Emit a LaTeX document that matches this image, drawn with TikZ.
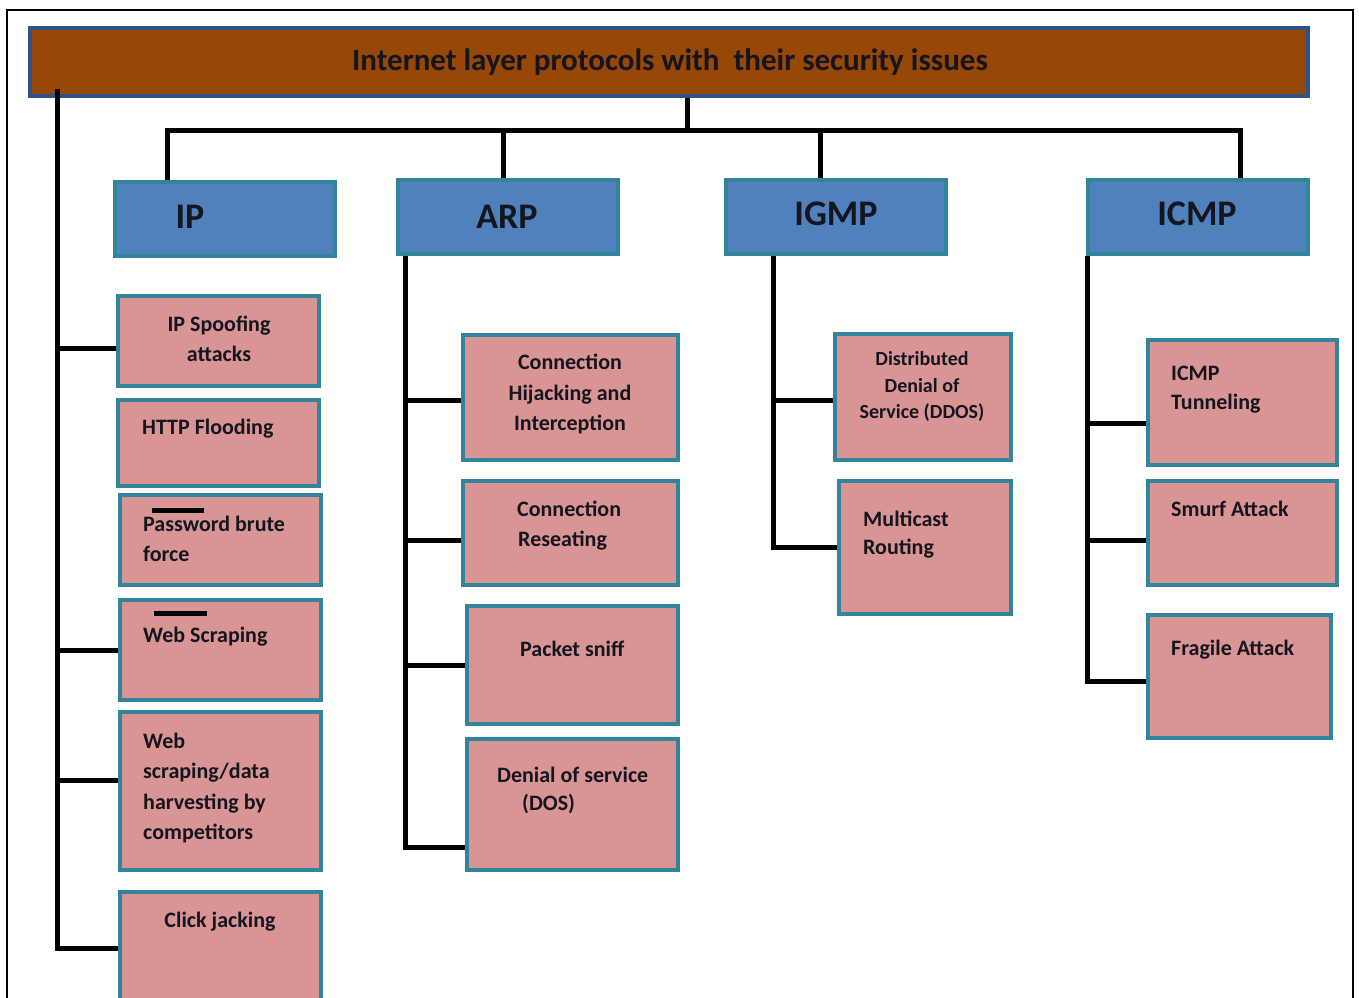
\documentclass[tikz,border=0pt]{standalone}
\usepackage{fontspec}
\setmainfont{Carlito}
\definecolor{titlefill}{HTML}{974706}
\definecolor{titleedge}{HTML}{2E5387}
\definecolor{protofill}{HTML}{4F81BD}
\definecolor{boxedge}{HTML}{31849B}
\definecolor{attackfill}{HTML}{D99594}
\definecolor{ink}{HTML}{15151F}
\pgfdeclarelayer{background}
\pgfsetlayers{background,main}
% box node from its outer corners (x1,y1)-(x2,y2), border 4pt
\newcommand\mkbox[6]{\node[#1, minimum width={#5-#3-4}, minimum height={#6-#4-4}] (#2) at ({(#3+#5)/2},{(#4+#6)/2}) {};}
\begin{document}
\begin{tikzpicture}[x=1pt,y=-1pt,
  conn/.style={line width=5pt, black, line join=miter},
  titlebox/.style={draw=titleedge, fill=titlefill, line width=4pt, inner sep=0pt},
  protobox/.style={draw=boxedge, fill=protofill, line width=4pt, inner sep=0pt},
  attackbox/.style={draw=boxedge, fill=attackfill, line width=4pt, inner sep=0pt},
  lbl/.style={font=\bfseries\fontsize{22}{22}\selectfont, text=ink, inner sep=0pt},
  small/.style={font=\bfseries\fontsize{20}{20}\selectfont, text=ink, inner sep=0pt},
  proto/.style={font=\bfseries\fontsize{36}{36}\selectfont, text=ink, inner sep=0pt},
  heading/.style={font=\bfseries\fontsize{31}{31}\selectfont, text=ink, inner sep=0pt}]
\useasboundingbox (0,0) rectangle (1359,997);
\begin{scope}
\clip (0,0) rectangle (1359,997);
\draw[line width=1.5pt, black] (7,10) rectangle (1353,1030);
\end{scope}

% title bar
\mkbox{titlebox}{title}{28}{26}{1310}{98}
\node[heading, anchor=base] (titletext) at (670,70) {Internet layer protocols with\ \ their security issues};

% protocol boxes
\mkbox{protobox}{ip}{113}{180}{337}{258}
\mkbox{protobox}{arp}{396}{178}{620}{256}
\mkbox{protobox}{igmp}{724}{178}{948}{256}
\mkbox{protobox}{icmp}{1086}{178}{1310}{256}
\node[proto] (iptext) at (190,217) {IP};
\node[proto] (arptext) at (507,217) {ARP};
\node[proto] (igmptext) at (836,214) {IGMP};
\node[proto] (icmptext) at (1197,214) {ICMP};

% IP issues
\mkbox{attackbox}{b1}{116}{294}{321}{388}
\mkbox{attackbox}{b2}{116}{398}{321}{488}
\mkbox{attackbox}{b3}{118}{493}{323}{587}
\mkbox{attackbox}{b4}{118}{598}{323}{702}
\mkbox{attackbox}{b5}{118}{710}{323}{872}
\mkbox{attackbox}{b6}{118}{890}{323}{1003}
\node[lbl, anchor=mid] (b1a) at (219,329) {IP Spoofing};
\node[lbl, anchor=mid] (b1b) at (219,359) {attacks};
\node[lbl, anchor=mid west] (b2a) at (142,432) {HTTP Flooding};
\node[lbl, anchor=mid west] (b3a) at (143,529) {Password brute};
\node[lbl, anchor=mid west] (b3b) at (143,559) {force};
\node[lbl, anchor=mid west] (b4a) at (143,640) {Web Scraping};
\node[lbl, anchor=mid west] (b5a) at (143,746) {Web};
\node[lbl, anchor=mid west] (b5b) at (143,776) {scraping/data};
\node[lbl, anchor=mid west] (b5c) at (143,807) {harvesting by};
\node[lbl, anchor=mid west] (b5d) at (143,837) {competitors};
\node[lbl, anchor=mid] (b6a) at (220,925) {Click jacking};
% short bars over the text
\draw[line width=5pt, black] (152,510) -- (204,510);
\draw[line width=5pt, black] (154,613) -- (207,613);

% ARP issues
\mkbox{attackbox}{c1}{461}{333}{680}{462}
\mkbox{attackbox}{c2}{461}{479}{680}{587}
\mkbox{attackbox}{c3}{465}{604}{680}{726}
\mkbox{attackbox}{c4}{465}{737}{680}{872}
\node[lbl, anchor=mid] (c1a) at (570,367) {Connection};
\node[lbl, anchor=mid] (c1b) at (570,398) {Hijacking and};
\node[lbl, anchor=mid] (c1c) at (570,428) {Interception};
\node[lbl, anchor=mid west] (c2a) at (517,514) {Connection};
\node[lbl, anchor=mid west] (c2b) at (518,544) {Reseating};
\node[lbl, anchor=mid west] (c3a) at (520,654) {Packet sniff};
\node[lbl, anchor=mid west] (c4a) at (497,780) {Denial of service};
\node[lbl, anchor=mid west] (c4b) at (522,808) {(DOS)};

% IGMP issues
\mkbox{attackbox}{d1}{833}{332}{1013}{462}
\mkbox{attackbox}{d2}{837}{479}{1013}{616}
\node[small, anchor=mid] (d1a) at (922,363) {Distributed};
\node[small, anchor=mid] (d1b) at (922,390) {Denial of};
\node[small, anchor=mid] (d1c) at (922,416) {Service (DDOS)};
\node[lbl, anchor=mid west] (d2a) at (863,524) {Multicast};
\node[lbl, anchor=mid west] (d2b) at (863,552) {Routing};

% ICMP issues
\mkbox{attackbox}{e1}{1146}{338}{1339}{467}
\mkbox{attackbox}{e2}{1146}{479}{1339}{587}
\mkbox{attackbox}{e3}{1146}{613}{1333}{740}
\node[lbl, anchor=mid west] (e1a) at (1171,378) {ICMP};
\node[lbl, anchor=mid west] (e1b) at (1171,407) {Tunneling};
\node[lbl, anchor=mid west] (e2a) at (1171,514) {Smurf Attack};
\node[lbl, anchor=mid west] (e3a) at (1171,653) {Fragile Attack};

% bus positions
\coordinate (hub) at (687,130);
\coordinate (ipx) at (167,0);
\coordinate (arpx) at (503,0);
\coordinate (igmpx) at (820,0);
\coordinate (icmpx) at (1240,0);
\coordinate (lx) at (57,0);
\coordinate (ltop) at (57,89);
\coordinate (arpbus) at (405,0);
\coordinate (igmpbus) at (773,0);
\coordinate (icmpbus) at (1087,0);

% left bus, starting over the lower edge of the title bar
\draw[conn] (ltop) |- ([yshift=-1.5]b6.west);

\begin{pgfonlayer}{background}
  % title to protocols
  \draw[conn] (title.south -| hub) -- (hub);
  \draw[conn] (ip.north -| ipx) -- (ipx |- hub) -- (icmpx |- hub) -- (icmp.north -| icmpx);
  \draw[conn] (arp.north -| arpx) -- (arpx |- hub);
  \draw[conn] (igmp.north -| igmpx) -- (igmpx |- hub);
  % branches of the left bus
  \draw[conn] ([yshift=-7]b1.west) -- ([yshift=-7]b1.west -| lx);
  \draw[conn] (b4.west) -- (b4.west -| lx);
  \draw[conn] ([yshift=11]b5.west) -- ([yshift=11]b5.west -| lx);
  % ARP bus
  \draw[conn] (arp.south -| arpbus) |- ([yshift=-42.5]c4.west);
  \draw[conn] ([yshift=-2.5]c1.west) -- ([yshift=-2.5]c1.west -| arpbus);
  \draw[conn] ([yshift=-7]c2.west) -- ([yshift=-7]c2.west -| arpbus);
  \draw[conn] (c3.west) -- (c3.west -| arpbus);
  % IGMP bus
  \draw[conn] (igmp.south -| igmpbus) |- (d2.west);
  \draw[conn] ([yshift=-3]d1.west) -- ([yshift=-3]d1.west -| igmpbus);
  % ICMP bus
  \draw[conn] (icmp.south -| icmpbus) |- ([yshift=-4.5]e3.west);
  \draw[conn] ([yshift=-20.5]e1.west) -- ([yshift=-20.5]e1.west -| icmpbus);
  \draw[conn] ([yshift=-7]e2.west) -- ([yshift=-7]e2.west -| icmpbus);
\end{pgfonlayer}
\end{tikzpicture}
\end{document}
